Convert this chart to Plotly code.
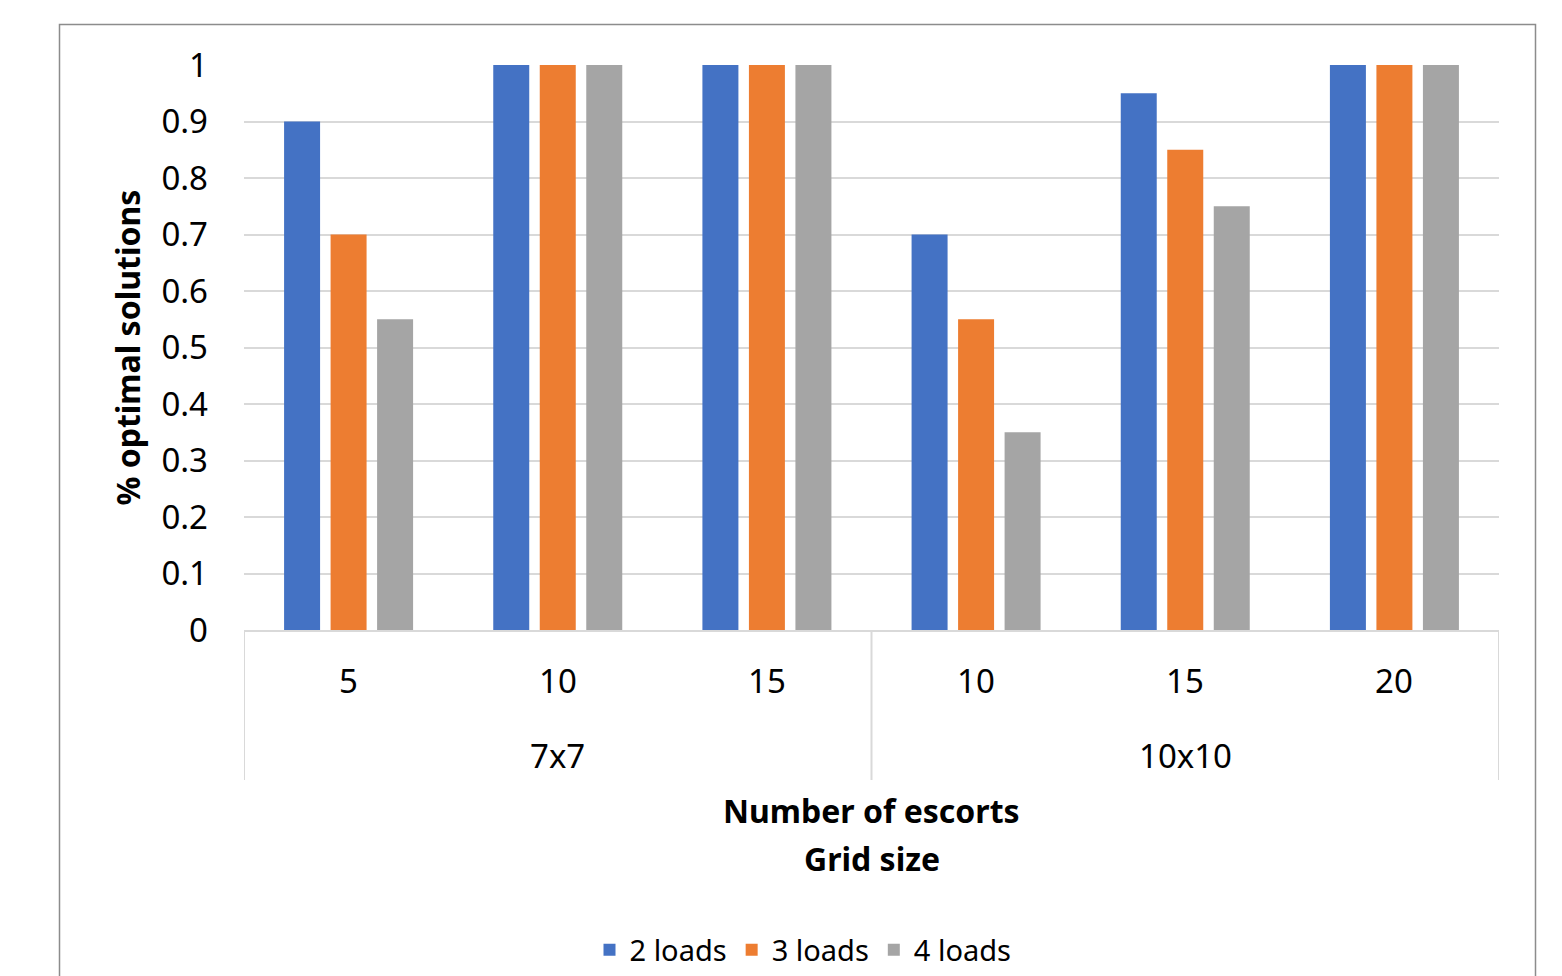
import plotly.graph_objects as go

# Category labels: number of escorts within each grid size
escorts = ["5", "10", "15", "10", "15", "20"]
grid_sizes = ["7x7", "7x7", "7x7", "10x10", "10x10", "10x10"]

# Share of optimal solutions per number of loads
series_names = ["2 loads", "3 loads", "4 loads"]
loads_2 = [0.9, 1.0, 1.0, 0.7, 0.95, 1.0]
loads_3 = [0.7, 1.0, 1.0, 0.55, 0.85, 1.0]
loads_4 = [0.55, 1.0, 1.0, 0.35, 0.75, 1.0]

y_ticks = [0, 0.1, 0.2, 0.3, 0.4, 0.5, 0.6, 0.7, 0.8, 0.9, 1]
y_tick_text = ["0", "0.1", "0.2", "0.3", "0.4", "0.5", "0.6", "0.7", "0.8", "0.9", "1"]

colors = ["#4472C4", "#ED7D31", "#A5A5A5"]
FONT = "Noto Sans"
GRID = "#d9d9d9"

W, H = 1562, 976
L, R, T, B = 244, 63, 65, 346
plot_h = H - T - B


def py(pix):
    """Convert a pixel row of the page to paper y."""
    return (H - B - pix) / plot_h


def px(pix):
    """Convert a pixel column of the page to paper x."""
    return (pix - L) / (W - L - R)


xpos = list(range(len(escorts)))

fig = go.Figure()
for name, vals, col in zip(series_names, [loads_2, loads_3, loads_4], colors):
    fig.add_trace(go.Bar(x=xpos, y=vals, name=name, marker=dict(color=col, line=dict(width=0))))

annotations = []
# inner level: number of escorts
for i, lab in enumerate(escorts):
    annotations.append(dict(x=i, xref="x", y=py(680), yref="paper", text=lab, showarrow=False,
                            font=dict(family=FONT, size=33, color="#000"), yanchor="middle"))
# outer level: grid size, centred under its group
groups = []
for i, g in enumerate(grid_sizes):
    if not groups or groups[-1][0] != g:
        groups.append([g, i, i])
    else:
        groups[-1][2] = i
for g, a, b in groups:
    annotations.append(dict(x=(a + b) / 2, xref="x", y=py(755), yref="paper", text=g, showarrow=False,
                            font=dict(family=FONT, size=33, color="#000"), yanchor="middle"))

# axis titles
annotations.append(dict(x=0.5, xref="paper", y=py(810), yref="paper", text="<b>Number of escorts</b>",
                        showarrow=False, font=dict(family=FONT, size=32, color="#000"), yanchor="middle"))
annotations.append(dict(x=0.5, xref="paper", y=py(858), yref="paper", text="<b>Grid size</b>",
                        showarrow=False, font=dict(family=FONT, size=32, color="#000"), yanchor="middle"))
annotations.append(dict(x=px(127), xref="paper", y=0.5, yref="paper", text="<b>% optimal solutions</b>",
                        textangle=-90, showarrow=False, font=dict(family=FONT, size=32, color="#000"),
                        xanchor="center", yanchor="middle"))

shapes = []
# group dividers of the category axis
bounds = [groups[0][1] - 0.5] + [b + 0.5 for _, _, b in groups]
for xb in bounds:
    shapes.append(dict(type="line", xref="x", yref="paper", x0=xb, x1=xb, y0=0, y1=py(780),
                       line=dict(color=GRID, width=2)))
# chart area border
shapes.append(dict(type="rect", xref="paper", yref="paper", x0=px(59.5), x1=px(1535.5),
                   y0=py(990), y1=py(24.5), line=dict(color="#8c8c8c", width=1.5),
                   fillcolor="rgba(0,0,0,0)", layer="below"))

fig.update_layout(
    width=W, height=H,
    margin=dict(l=L, r=R, t=T, b=B, pad=0, autoexpand=False),
    paper_bgcolor="white", plot_bgcolor="white",
    barmode="group", bargap=0.333, bargroupgap=0.226,
    font=dict(family=FONT, color="#000"),
    xaxis=dict(range=[-0.5, 5.5], showticklabels=False, showgrid=False, zeroline=False,
               showline=True, linecolor=GRID, linewidth=2, ticks="", fixedrange=True,
               automargin=False),
    yaxis=dict(range=[0, 1], tickvals=y_ticks, ticktext=y_tick_text, showgrid=True, gridcolor=GRID,
               gridwidth=2, zeroline=False, showline=False, ticks="", ticklabelstandoff=35,
               tickfont=dict(family=FONT, size=33, color="#000"), automargin=False),
    legend=dict(orientation="h", xref="container", x=803 / W, xanchor="center",
                yref="container", y=1 - 950 / H, yanchor="middle",
                font=dict(family=FONT, size=29, color="#000"), itemsizing="constant",
                traceorder="normal", itemwidth=30),
    annotations=annotations,
    shapes=shapes,
    showlegend=True,
)

fig.write_html("out.html")
